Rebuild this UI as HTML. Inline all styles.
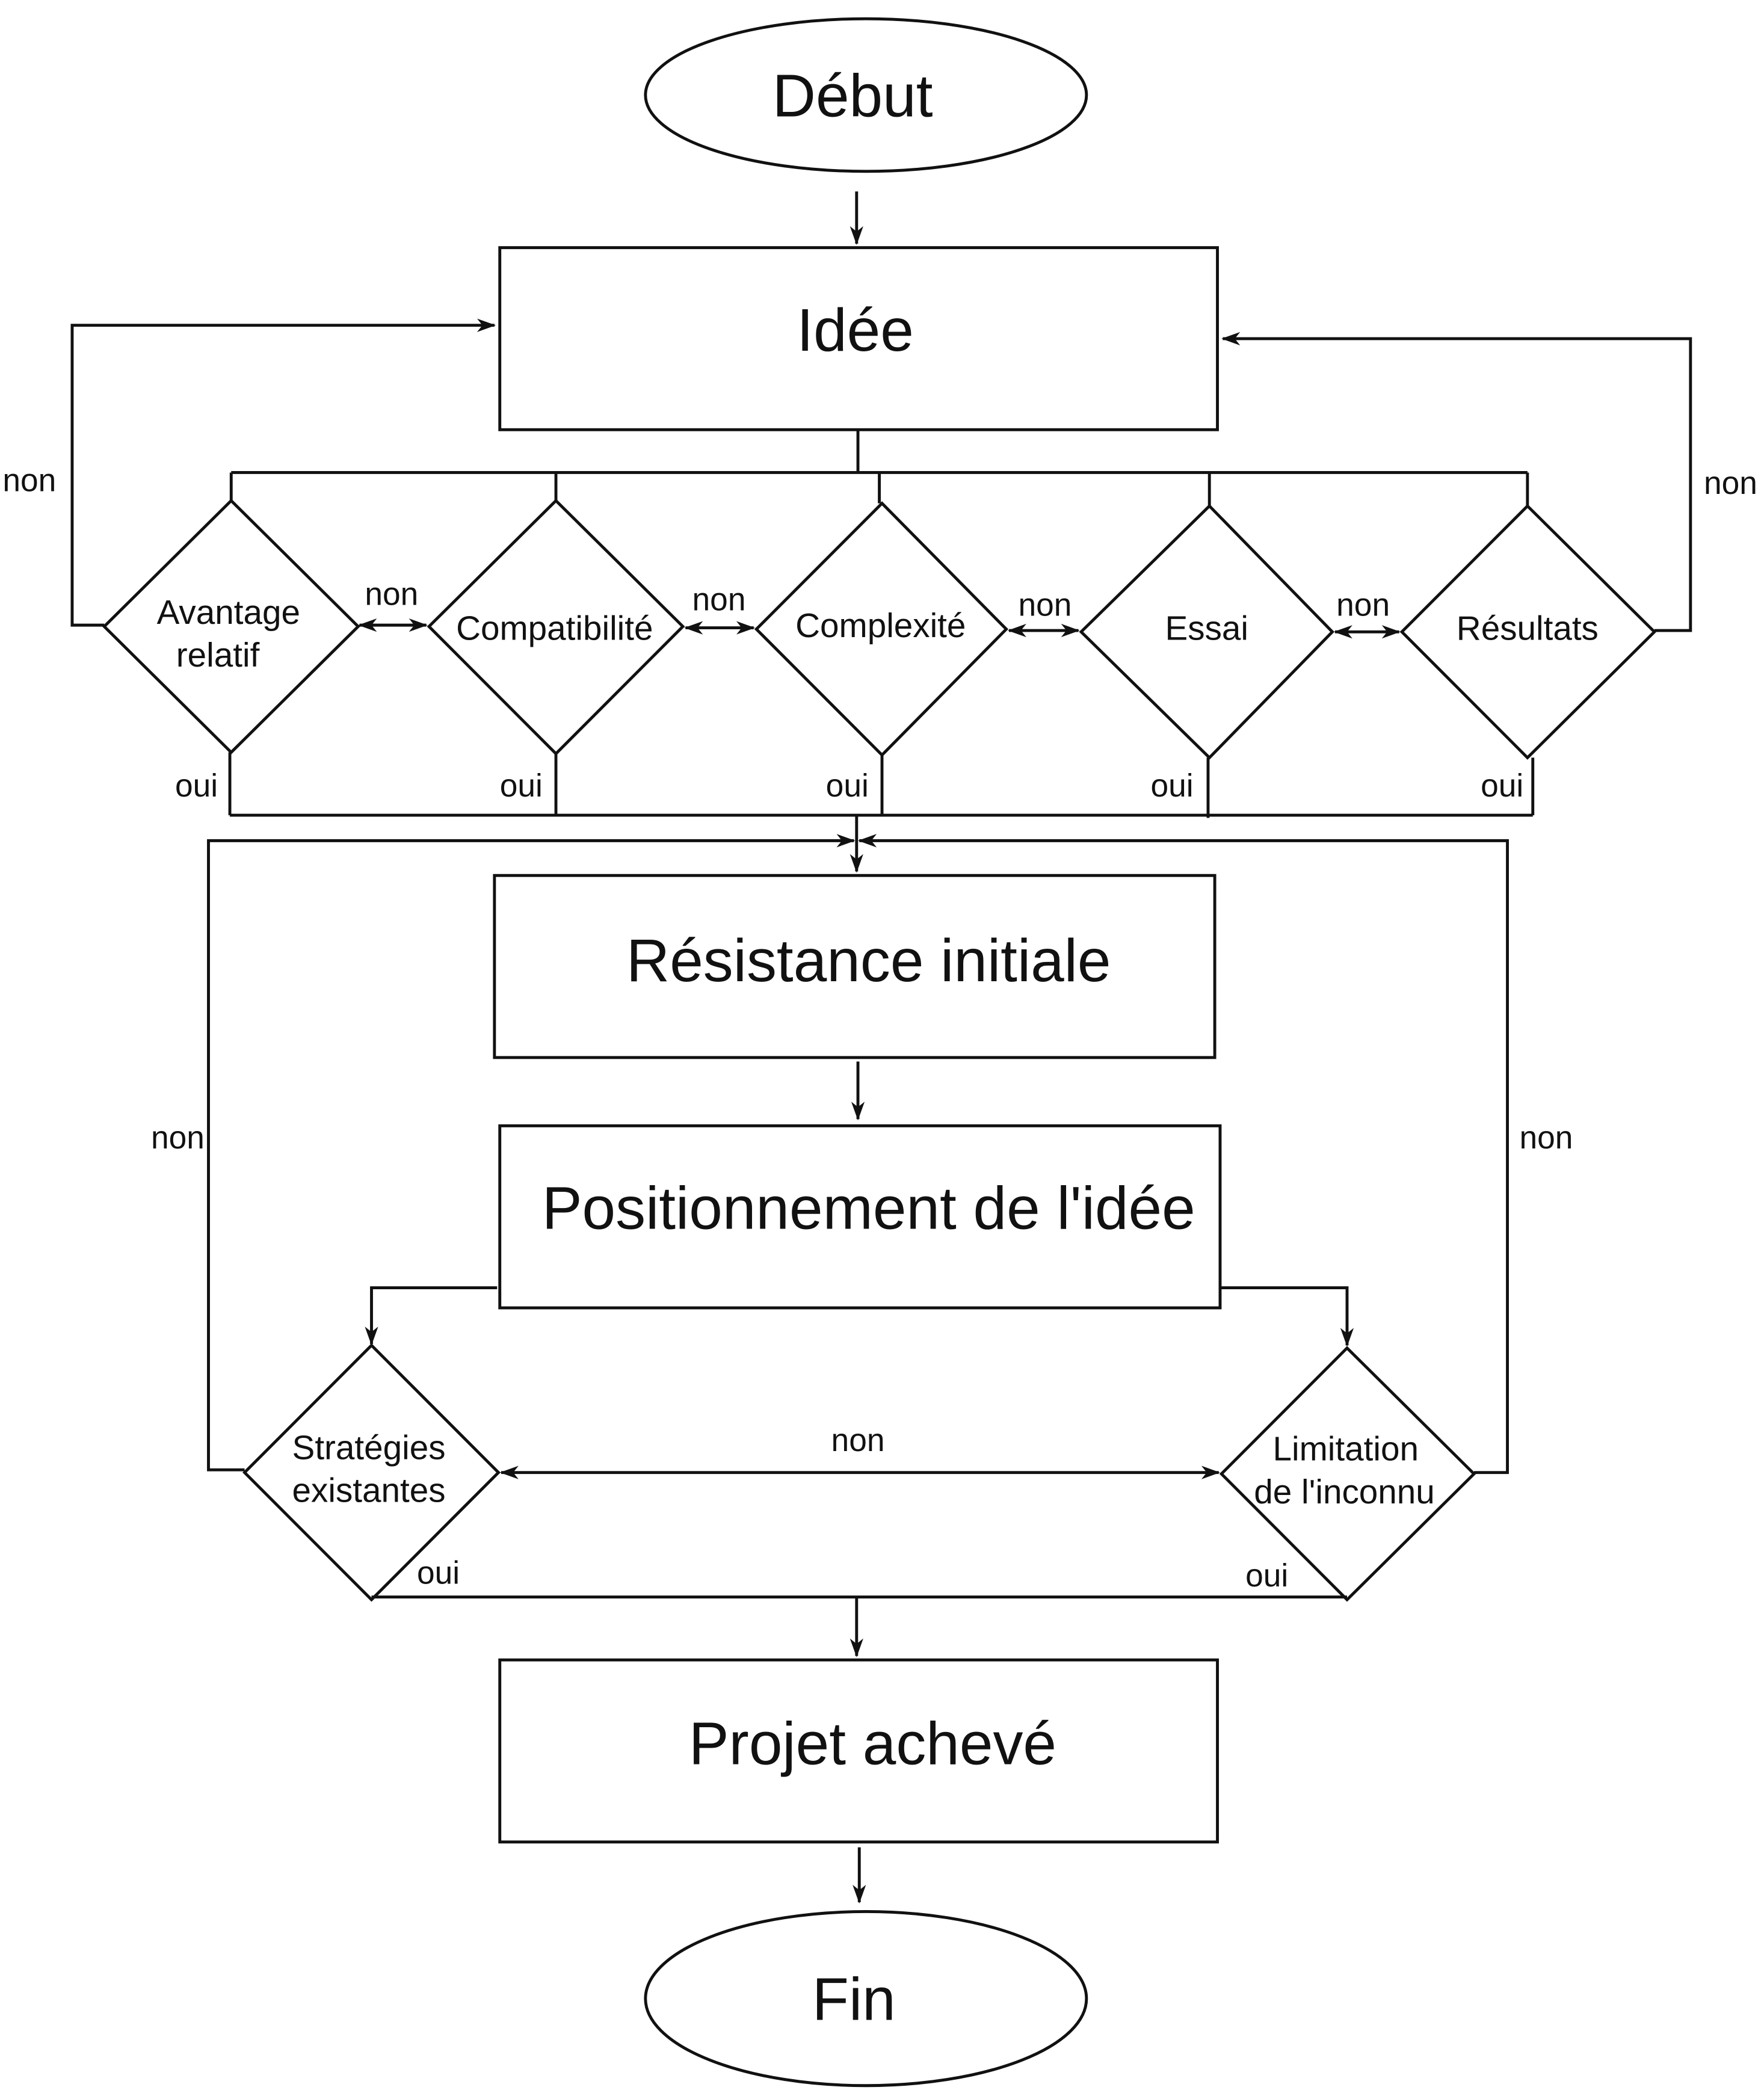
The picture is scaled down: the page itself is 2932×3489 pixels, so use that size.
<!DOCTYPE html>
<html><head><meta charset="utf-8"><style>
html,body{margin:0;padding:0;background:#fff;}
svg{display:block;}
text{font-family:"Liberation Sans",sans-serif;fill:#111;}
</style></head><body>
<svg width="2932" height="3489" viewBox="0 0 1320 1568" preserveAspectRatio="none" xmlns="http://www.w3.org/2000/svg">
<defs>
<marker id="a" markerWidth="14" markerHeight="12" refX="13" refY="6" orient="auto" markerUnits="userSpaceOnUse">
<path d="M0,1 L14,6 L0,11 L4,6 z" fill="#111"/>
</marker>
<marker id="b" markerWidth="14" markerHeight="12" refX="1" refY="6" orient="auto" markerUnits="userSpaceOnUse">
<path d="M14,1 L0,6 L14,11 L10,6 z" fill="#111"/>
</marker>
</defs>
<g fill="none" stroke="#111" stroke-width="2.2">
<ellipse cx="648" cy="71" rx="165" ry="57"/>
<line x1="641" y1="143" x2="641" y2="182" marker-end="url(#a)"/>
<rect x="374" y="185" width="537" height="136"/>
<polyline points="78,467 54,467 54,243 370,243" marker-end="url(#a)"/>
<polyline points="1238,471 1265,471 1265,253 915,253" marker-end="url(#a)"/>
<line x1="642" y1="321" x2="642" y2="353"/>
<line x1="173" y1="353" x2="1143" y2="353"/>
<line x1="173" y1="353" x2="173" y2="374"/>
<line x1="416" y1="353" x2="416" y2="374"/>
<line x1="658" y1="353" x2="658" y2="376"/>
<line x1="905" y1="353" x2="905" y2="378"/>
<line x1="1143" y1="353" x2="1143" y2="378"/>
<polygon points="173,374 268,468 173,562 78,468"/>
<polygon points="416,374 511,468 416,563 321,468"/>
<polygon points="660,376 753,470 660,564 566,470"/>
<polygon points="905,378 997,472 905,566 809,472"/>
<polygon points="1143,378 1238,472 1143,566 1049,472"/>
<line x1="269" y1="467" x2="319" y2="467" marker-start="url(#b)" marker-end="url(#a)"/>
<line x1="513" y1="469" x2="564" y2="469" marker-start="url(#b)" marker-end="url(#a)"/>
<line x1="755" y1="471" x2="807" y2="471" marker-start="url(#b)" marker-end="url(#a)"/>
<line x1="999" y1="472" x2="1047" y2="472" marker-start="url(#b)" marker-end="url(#a)"/>
<line x1="172" y1="562" x2="172" y2="609"/>
<line x1="416" y1="563" x2="416" y2="609"/>
<line x1="660" y1="564" x2="660" y2="609"/>
<line x1="904" y1="566" x2="904" y2="611"/>
<line x1="1147" y1="566" x2="1147" y2="609"/>
<line x1="172" y1="609" x2="1147" y2="609"/>
<line x1="641" y1="609" x2="641" y2="651" marker-end="url(#a)"/>
<polyline points="183,1098 156,1098 156,628 639,628" marker-end="url(#a)"/>
<polyline points="1103,1100 1128,1100 1128,628 643,628" marker-end="url(#a)"/>
<rect x="370" y="654" width="539" height="136"/>
<line x1="642" y1="793" x2="642" y2="836" marker-end="url(#a)"/>
<rect x="374" y="841" width="539" height="136"/>
<polyline points="372,962 278,962 278,1004" marker-end="url(#a)"/>
<polyline points="913,962 1008,962 1008,1005" marker-end="url(#a)"/>
<polygon points="278,1005 373,1100 278,1195 183,1100"/>
<polygon points="1008,1007 1103,1101 1008,1195 914,1101"/>
<line x1="375" y1="1100" x2="912" y2="1100" marker-start="url(#b)" marker-end="url(#a)"/>
<line x1="278" y1="1193" x2="1008" y2="1193"/>
<line x1="641" y1="1193" x2="641" y2="1237" marker-end="url(#a)"/>
<rect x="374" y="1240" width="537" height="136"/>
<line x1="643" y1="1380" x2="643" y2="1421" marker-end="url(#a)"/>
<ellipse cx="648" cy="1493" rx="165" ry="65"/>
</g>
<g font-size="45" text-anchor="middle">
<text x="638" y="87">Début</text>
<text x="640" y="262">Idée</text>
<text x="650" y="733">Résistance initiale</text>
<text x="650" y="918">Positionnement de l'idée</text>
<text x="653" y="1318">Projet achevé</text>
<text x="639" y="1509">Fin</text>
</g>
<g font-size="25.5" text-anchor="middle">
<text x="171" y="466">Avantage</text>
<text x="163" y="498">relatif</text>
<text x="415" y="478">Compatibilité</text>
<text x="659" y="476">Complexité</text>
<text x="903" y="478">Essai</text>
<text x="1143" y="478">Résultats</text>
<text x="276" y="1090">Stratégies</text>
<text x="276" y="1122">existantes</text>
<text x="1007" y="1091">Limitation</text>
<text x="1006" y="1123">de l'inconnu</text>
</g>
<g font-size="24" text-anchor="middle">
<text x="22" y="367">non</text>
<text x="1295" y="369">non</text>
<text x="293" y="452">non</text>
<text x="538" y="456">non</text>
<text x="782" y="460">non</text>
<text x="1020" y="460">non</text>
<text x="147" y="595">oui</text>
<text x="390" y="595">oui</text>
<text x="634" y="595">oui</text>
<text x="877" y="595">oui</text>
<text x="1124" y="595">oui</text>
<text x="133" y="858">non</text>
<text x="1157" y="858">non</text>
<text x="642" y="1084">non</text>
<text x="328" y="1183">oui</text>
<text x="948" y="1185">oui</text>
</g>
</svg>
</body></html>
